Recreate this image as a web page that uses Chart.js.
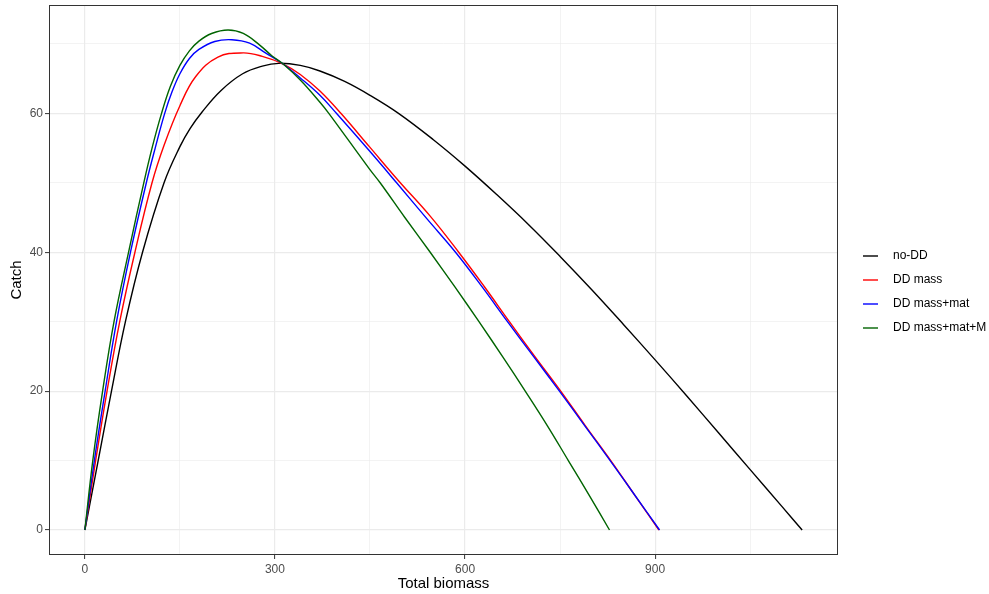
<!DOCTYPE html>
<html>
<head>
<meta charset="utf-8">
<title>Catch vs total biomass</title>
<script src="https://cdn.jsdelivr.net/npm/chart.js@4.4.1/dist/chart.umd.min.js"></script>
<style>
  html, body { margin: 0; padding: 0; background: #ffffff; }
  #wrap { width: 989px; height: 594px; }
</style>
</head>
<body>
<div id="wrap"><canvas id="catchChart" width="989" height="594"></canvas></div>
<script>
// Catch against total biomass, one curve per density-dependence setting
const seriesNames = ['no-DD', 'DD mass', 'DD mass+mat', 'DD mass+mat+M'];
const seriesColors = ['#000000', '#FF0000', '#0000FF', '#006400'];

const noDD_biomass = [0, 21, 42, 64, 91, 125, 150, 166, 185, 215, 249, 280, 306, 340, 371, 410, 450, 495, 550, 600, 650, 700, 750, 800, 850, 900, 950, 1000, 1050, 1100, 1132];
const noDD_catch   = [0, 10, 20, 30, 40, 50, 55.2, 57.8, 60.2, 63.3, 65.7, 66.8, 67.2, 66.9, 66.1, 64.6, 62.6, 60, 56.2, 52.4, 48.3, 44, 39.4, 34.6, 29.6, 24.5, 19.3, 14, 8.7, 3.4, 0];

const mass_biomass = [0, 17, 35, 55, 79, 106, 125, 150, 175, 210, 250, 280, 313, 340, 371, 404, 449, 495, 545, 590, 630, 670, 710, 751, 790, 830, 868, 906];
const mass_catch   = [0, 10, 20, 30, 40, 50, 55.4, 61.1, 65.3, 68.1, 68.7, 68.2, 67.1, 65.6, 63.2, 60, 55.2, 50.3, 45.2, 40, 35.1, 30, 25, 20, 15, 10, 5, 0];

const massMat_biomass = [0, 15, 32, 50, 72, 97, 111, 126, 138, 150, 165, 180, 205, 232, 260, 285, 313, 340, 371, 397, 449, 492, 540, 585, 627, 667, 708, 749, 789, 829, 868, 907];
const massMat_catch   = [0, 10, 20, 30, 40, 50, 55, 60, 63.2, 65.7, 67.9, 69.2, 70.35, 70.6, 70.1, 68.7, 67.1, 65.1, 62.6, 60, 54.6, 50, 44.8, 40, 35, 30, 25, 20, 15, 10, 5, 0];

const massMatM_biomass = [0, 12.5, 28, 46, 69, 93, 106, 121, 135, 150, 165, 180, 200, 226, 250, 275, 295, 313, 340, 371, 385, 449, 466, 505, 545, 584, 622, 659, 695, 730, 763, 796, 828];
const massMatM_catch   = [0, 10, 20, 30, 40, 50, 55, 60, 63.9, 66.9, 69, 70.4, 71.5, 72, 71.5, 69.9, 68.3, 67.1, 64.8, 61.6, 60, 52, 50, 45, 40, 35, 30, 25, 20, 15, 10, 5, 0];

// axis breaks: labelled majors plus unlabelled minors
const xBreaks = [0, 150, 300, 450, 600, 750, 900, 1050];
const xLabels = [0, 300, 600, 900];
const yBreaks = [0, 10, 20, 30, 40, 50, 60, 70];
const yLabels = [0, 20, 40, 60];

const allBiomass = [noDD_biomass, mass_biomass, massMat_biomass, massMatM_biomass];
const allCatch = [noDD_catch, mass_catch, massMat_catch, massMatM_catch];

// 5% padding around the data range on both axes
function paddedRange(arrays) {
  const flat = arrays.flat();
  const lo = Math.min(...flat), hi = Math.max(...flat);
  const pad = (hi - lo) * 0.05;
  return [lo - pad, hi + pad];
}
const [xMin, xMax] = paddedRange(allBiomass);
const [yMin, yMax] = paddedRange(allCatch);

const datasets = seriesNames.map((name, i) => ({
  label: name,
  data: allBiomass[i].map((b, j) => ({ x: b, y: allCatch[i][j] })),
  borderColor: seriesColors[i],
  borderWidth: 1.4,
  pointRadius: 0,
  fill: false,
  tension: 0.4,
  order: seriesNames.length - i, // later series drawn on top
}));

const gridColor = '#EBEBEB';
const frameColor = '#333333';

// panel border, axis titles and the legend on the right
const panelDecor = {
  id: 'panelDecor',
  afterDatasetsDraw(chart) {
    const { ctx, chartArea: a } = chart;
    ctx.save();
    ctx.strokeStyle = frameColor;
    ctx.lineWidth = 1;
    ctx.strokeRect(a.left + 0.5, a.top + 0.5, a.right - a.left - 1, a.bottom - a.top - 1);

    ctx.fillStyle = '#000000';
    ctx.font = '15px "Liberation Sans", Arial, sans-serif';
    ctx.textAlign = 'center';
    ctx.textBaseline = 'middle';
    ctx.fillText('Total biomass', (a.left + a.right) / 2, 584);

    ctx.translate(17, (a.top + a.bottom) / 2);
    ctx.rotate(-Math.PI / 2);
    ctx.fillText('Catch', 0, 0);
    ctx.restore();

    ctx.save();
    ctx.font = '12px "Liberation Sans", Arial, sans-serif';
    ctx.textAlign = 'left';
    ctx.textBaseline = 'middle';
    const rowY = [256, 280, 304, 328];
    seriesNames.forEach((name, i) => {
      ctx.strokeStyle = seriesColors[i];
      ctx.lineWidth = 1.4;
      ctx.beginPath();
      ctx.moveTo(863, rowY[i]);
      ctx.lineTo(878, rowY[i]);
      ctx.stroke();
      ctx.fillStyle = '#000000';
      ctx.fillText(name, 893, rowY[i]);
    });
    ctx.restore();
  },
};

Chart.defaults.font.family = '"Liberation Sans", Arial, sans-serif';
Chart.defaults.font.size = 12;

new Chart(document.getElementById('catchChart'), {
  type: 'line',
  data: { datasets },
  options: {
    responsive: false,
    animation: false,
    devicePixelRatio: 1,
    layout: { padding: { left: 0, right: 151, top: 5, bottom: 0 } },
    plugins: {
      legend: { display: false },
      tooltip: { enabled: false },
    },
    scales: {
      x: {
        type: 'linear',
        min: xMin,
        max: xMax,
        afterBuildTicks: scale => { scale.ticks = xBreaks.map(v => ({ value: v })); },
        afterFit: scale => {
          scale.height = 39;
          scale.paddingLeft = 0;
          scale.paddingRight = 0;
        },
        border: { display: false },
        grid: {
          color: gridColor,
          lineWidth: ctx => (xLabels.includes(ctx.tick.value) ? 1.2 : 0.6),
          drawTicks: true,
          tickLength: 4,
          tickWidth: 1,
          tickColor: ctx => (xLabels.includes(ctx.tick.value) ? frameColor : 'rgba(0,0,0,0)'),
        },
        ticks: {
          color: '#4D4D4D',
          padding: 3,
          maxRotation: 0,
          autoSkip: false,
          callback: v => (xLabels.includes(v) ? String(v) : ''),
        },
      },
      y: {
        type: 'linear',
        min: yMin,
        max: yMax,
        afterBuildTicks: scale => { scale.ticks = yBreaks.map(v => ({ value: v })); },
        afterFit: scale => {
          scale.width = 49;
          scale.paddingTop = 0;
          scale.paddingBottom = 0;
        },
        border: { display: false },
        grid: {
          color: gridColor,
          lineWidth: ctx => (yLabels.includes(ctx.tick.value) ? 1.2 : 0.6),
          drawTicks: true,
          tickLength: 4,
          tickWidth: 1,
          tickColor: ctx => (yLabels.includes(ctx.tick.value) ? frameColor : 'rgba(0,0,0,0)'),
        },
        ticks: {
          color: '#4D4D4D',
          padding: 2,
          autoSkip: false,
          callback: v => (yLabels.includes(v) ? String(v) : ''),
        },
      },
    },
  },
  plugins: [panelDecor],
});
</script>
</body>
</html>
